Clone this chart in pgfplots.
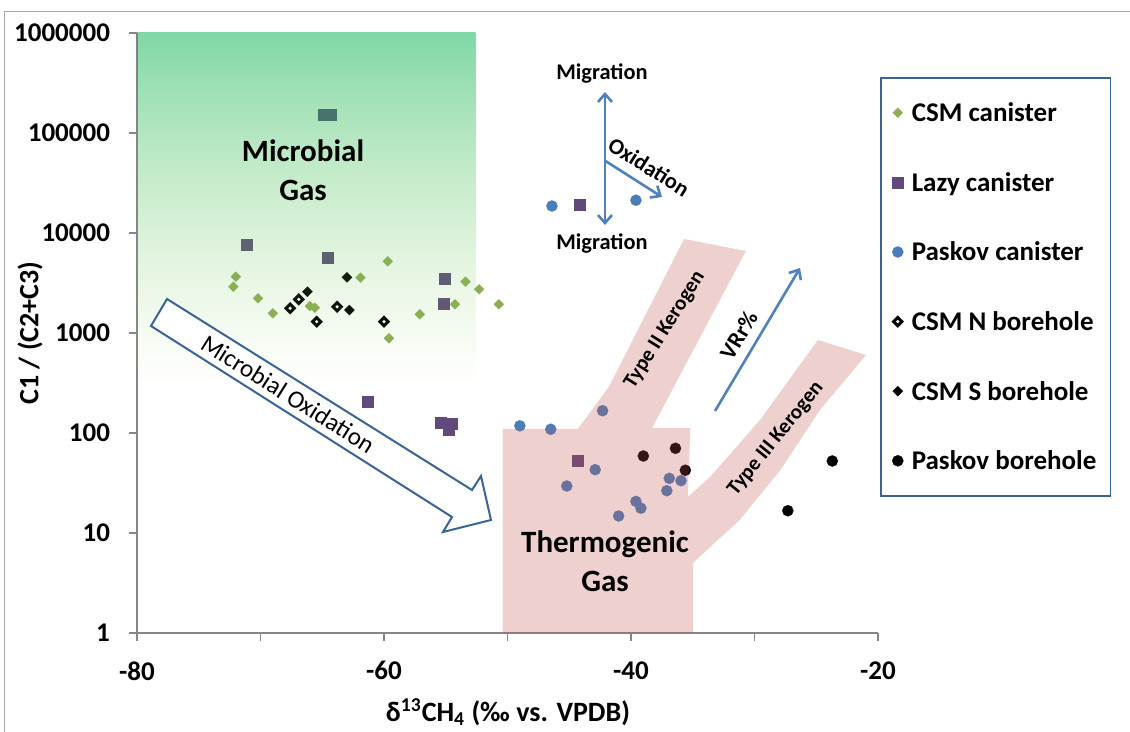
\documentclass[border=0pt]{standalone}
\usepackage{fontspec}
\setmainfont{Carlito}
\usepackage{pgfplots}
\pgfplotsset{compat=1.18}
\usetikzlibrary{arrows.meta,fadings}

\definecolor{csmgreen}{HTML}{8EAD55}
\definecolor{lazypurple}{HTML}{604A7B}
\definecolor{paskovblue}{HTML}{4A7EBB}
\definecolor{arrowblue}{HTML}{4F81BD}
\definecolor{outlineblue}{HTML}{3A6496}
\definecolor{thermored}{HTML}{C0504D}
\definecolor{microgreen}{HTML}{00B050}
\definecolor{microlime}{HTML}{92D050}
\definecolor{axisgray}{HTML}{868686}

\newcommand\ticksfont{\fontsize{13.5}{16}\selectfont\bfseries}
\newcommand\labelfont{\fontsize{14}{17}\selectfont\bfseries}
\newcommand\legendfont{\fontsize{13.5}{16}\selectfont\bfseries}
\newcommand\fieldfont{\fontsize{15.5}{19.5}\selectfont\bfseries}
\newcommand\notefont{\fontsize{11.2}{13}\selectfont\bfseries}
\newcommand\kerofont{\fontsize{10.5}{12}\selectfont\bfseries}

% microbial field: green at the top, fading out downwards
\tikzfading[name=fade down, top color=transparent!50, bottom color=transparent!100]

\begin{document}
\begin{tikzpicture}
\begin{axis}[
  scale only axis, width=370.5pt, height=300pt,
  at={(68.5pt,-316.5pt)}, anchor=south west,
  xmin=-80, xmax=-20, ymin=1, ymax=1000000, ymode=log, clip=false,
  axis x line*=bottom, axis y line*=left,
  axis line style={axisgray, line width=0.6pt},
  xtick={-80,-70,...,-20}, xticklabels={-80,,-60,,-40,,-20},
  ytick={1,10,100,1000,10000,100000,1000000},
  yticklabels={1,10,100,1000,10000,100000,1000000},
  yminorticks=false, xminorticks=false,
  tick align=outside, major tick length=4pt,
  tick style={axisgray, line width=0.6pt},
  ticklabel style={font=\ticksfont},
  xticklabel style={yshift=-6.75pt},
  yticklabel style={xshift=-6pt},
  xlabel={δ\textsuperscript{13}CH\textsubscript{4} (‰ vs. VPDB)},
  ylabel={C1 / (C2+C3)},
  xlabel style={font=\labelfont, at={(axis description cs:0.5007,-0.1317)}, anchor=center},
  ylabel style={font=\labelfont, at={(axis description cs:-0.1444,0.5)}, anchor=center},
  legend image code/.code={\path[draw=none, fill=none] (0pt,-3pt) rectangle (8.5pt,3pt);
    \draw[#1] plot coordinates {(3.5pt,0pt)};},
  legend style={at={(axis description cs:1.0027,0.9267)}, anchor=north west,
    draw=outlineblue, line width=0.8pt, fill=white, font=\legendfont,
    row sep=19.8pt, inner xsep=5pt, inner ysep=10pt,
    nodes={inner sep=2pt, text height=10pt, text depth=1pt}},
  legend cell align=left,
]
% CSM canister
\addplot[only marks, mark=square*, mark size=1.77pt,
  mark options={rotate=45, fill=csmgreen, draw=csmgreen, line width=0.1pt}]
  coordinates {(-72.0,3656) (-72.2,2904) (-70.2,2223) (-69.0,1574) (-66.0,1862)
    (-65.6,1791) (-61.9,3573) (-59.7,5212) (-59.6,885) (-57.1,1538)
    (-53.4,3258) (-52.3,2735) (-54.25,1936) (-50.7,1936)};
\addlegendentry{CSM canister}
% Lazy canister
\addplot[only marks, mark=square*, mark size=2.75pt,
  mark options={fill=lazypurple, draw=lazypurple, line width=0.1pt}]
  coordinates {(-71.1,7586) (-64.6,5663) (-64.9,153800) (-64.3,153800)
    (-61.35,207) (-55.4,127) (-54.5,123) (-54.8,109) (-55.1,3467)
    (-55.2,1950) (-44.2,19230) (-44.35,52.8)};
\addlegendentry{Lazy canister}
% Paskov canister
\addplot[only marks, mark=*, mark size=2.8pt,
  mark options={fill=paskovblue, draw=paskovblue, line width=0.1pt}]
  coordinates {(-46.4,18620) (-39.6,21280) (-49.0,118) (-46.5,109) (-42.3,167)
    (-42.9,43) (-45.2,29.5) (-36.9,35.2) (-35.95,33.4) (-37.1,26.5)
    (-39.6,20.7) (-39.2,17.7) (-41.0,14.8)};
\addlegendentry{Paskov canister}
% CSM N borehole
\addplot[only marks, mark=square*, mark size=1.45pt,
  mark options={rotate=45, fill=white, draw=black, line width=1.5pt}]
  coordinates {(-67.6,1766) (-66.9,2172) (-65.45,1298) (-63.8,1832) (-60.0,1298)};
\addlegendentry{CSM N  borehole}
% CSM S borehole
\addplot[only marks, mark=square*, mark size=1.8pt,
  mark options={rotate=45, fill=black, draw=black, line width=0.1pt}]
  coordinates {(-66.2,2588) (-63.0,3603) (-62.8,1698)};
\addlegendentry{CSM S borehole}
% Paskov borehole
\addplot[only marks, mark=*, mark size=2.8pt,
  mark options={fill=black, draw=black, line width=0.1pt}]
  coordinates {(-39.0,58.9) (-36.4,70.3) (-35.6,42.4) (-27.3,16.7) (-23.7,52.5)};
\addlegendentry{Paskov borehole}
\end{axis}

% genetic fields, laid over the samples (same axis frame, no axis lines)
\begin{axis}[
  scale only axis, width=370.5pt, height=300pt,
  at={(68.5pt,-316.5pt)}, anchor=south west,
  xmin=-80, xmax=-20, ymin=1, ymax=1000000, ymode=log, clip=false,
  axis lines=none]
\path[top color=microgreen, bottom color=microlime, path fading=fade down]
  (axis cs:-80,1000000) rectangle (axis cs:-52.6,300);
\fill[thermored, fill opacity=0.27]
  (axis cs:-50.4,1) -- (axis cs:-50.4,110) -- (axis cs:-44.3,110)
  -- (axis cs:-41.8,288) -- (axis cs:-35.7,8710) -- (axis cs:-30.7,6607)
  -- (axis cs:-38.3,112) -- (axis cs:-35.2,112) -- (axis cs:-35.4,22.9)
  -- (axis cs:-33.6,36.3) -- (axis cs:-29.55,135) -- (axis cs:-24.86,851)
  -- (axis cs:-20.97,603) -- (axis cs:-24.7,170) -- (axis cs:-27.9,42.7)
  -- (axis cs:-31.2,13.5) -- (axis cs:-35.0,5.0) -- (axis cs:-35.0,1) -- cycle;
\end{axis}

% annotations (1 unit = 0.5pt, y downwards)
\begin{scope}[x=0.5pt,y=-0.5pt]
  \draw[axisgray!70, line width=0.5pt] (4,12) rectangle (1150,750);
  % microbial oxidation arrow
  \draw[outlineblue, line width=1pt, fill=white, line join=miter]
    (167,299) -- (472,490) -- (481,476) -- (491,520) -- (443,532)
    -- (452,517) -- (151,326) -- cycle;
  \node[rotate=-32.2, font=\fontsize{12.5}{14}\selectfont] at (288,394) {Microbial Oxidation};
  % migration / oxidation arrows
  \draw[arrowblue, line width=1.3pt,
    {Straight Barb[length=4pt,width=7pt]}-{Straight Barb[length=4pt,width=7pt]}]
    (605,92) -- (605,225);
  \draw[arrowblue, line width=1.3pt, -{Straight Barb[length=4pt,width=7pt]}]
    (605.5,161) -- (662,197);
  \node[font=\notefont] at (602,74) {Migration};
  \node[font=\notefont] at (602,244) {Migration};
  \node[font=\notefont, rotate=-32] at (649,167) {Oxidation};
  % maturity arrow
  \draw[arrowblue, line width=1.3pt, -{Straight Barb[length=4pt,width=7pt]}]
    (715,411) -- (800,268);
  \node[font=\fontsize{11.5}{13}\selectfont\bfseries, rotate=59] at (739,335) {VRr\%};
  % field names
  \node[font=\fieldfont, align=center] at (303,170) {Microbial\\Gas};
  \node[font=\fieldfont, align=center] at (605,561) {Thermogenic\\Gas};
  \node[font=\kerofont, rotate=58] at (665,330) {Type II Kerogen};
  \node[font=\kerofont, rotate=51] at (776,439) {Type III Kerogen};
\end{scope}
\pgfresetboundingbox
\useasboundingbox (0,0) rectangle (565pt,-366pt);
\end{tikzpicture}
\end{document}
